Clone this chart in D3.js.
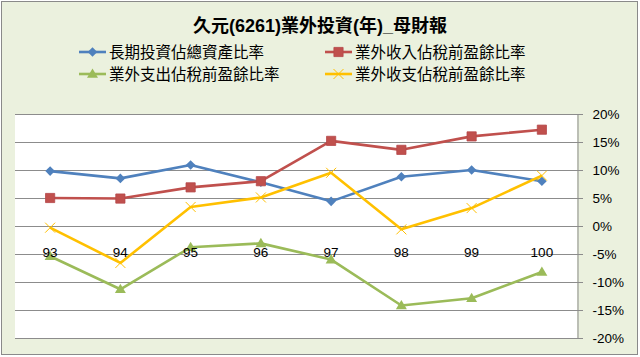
<!DOCTYPE html>
<html><head><meta charset="utf-8">
<script src="https://cdn.jsdelivr.net/npm/d3@7"></script>
<style>body{margin:0;background:#fff}svg{display:block}</style>
</head><body>
<svg id="c" width="640" height="357"></svg>
<script>
const title = "久元(6261)業外投資(年)_母財報";
const categories = ["93","94","95","96","97","98","99","100"];
const seriesNames = ["長期投資佔總資產比率","業外收入佔稅前盈餘比率","業外支出佔稅前盈餘比率","業外收支佔稅前盈餘比率"];
const longInvest = [9.8, 8.5, 10.9, 7.8, 4.4, 8.8, 10.0, 8.0];
const nonOpIncome = [5.0, 4.9, 6.9, 8.0, 15.2, 13.6, 16.0, 17.2];
const nonOpExpense = [-5.4, -11.3, -3.8, -3.1, -6.0, -14.2, -12.9, -8.2];
const nonOpNet = [-0.3, -6.6, 3.4, 5.1, 9.5, -0.6, 3.2, 9.0];
const yTicks = [-20,-15,-10,-5,0,5,10,15,20];

const colors = ["#4F81BD","#C0504D","#9BBB59","#FFC000"];
const markers = ["diamond","square","triangle","x"];
const data = [longInvest, nonOpIncome, nonOpExpense, nonOpNet];

const svg = d3.select("#c");
const latin = "'Liberation Sans', Arial, 'Noto Sans CJK TC', sans-serif";

svg.append("rect").attr("x",1.5).attr("y",1.5).attr("width",636).attr("height",353)
  .attr("fill","#EBF1DE").attr("stroke","#8a8a8a").attr("stroke-width",1);

const L=15, R=577, T=114, B=338;
const x = d3.scaleBand().domain(categories).range([L,R]).padding(0);
const y = d3.scaleLinear().domain([-20,20]).range([B,T]);
const cx = c => x(c) + x.bandwidth()/2;

svg.append("rect").attr("x",L).attr("y",T).attr("width",R-L).attr("height",B-T).attr("fill","#fff");

// gridlines
svg.append("g").selectAll("line").data(yTicks).join("line")
  .attr("x1",L).attr("x2",R+6).attr("y1",d=>Math.round(y(d))+0.5).attr("y2",d=>Math.round(y(d))+0.5)
  .attr("stroke","#8c8c8c").attr("stroke-width",1);
// right axis
const yAxis = d3.axisRight(y).tickValues(yTicks).tickSize(0).tickPadding(15).tickFormat(d=>d+"%");
const ga = svg.append("g").attr("transform",`translate(${R+0.5},0)`).call(yAxis);
ga.select(".domain").attr("stroke","#8c8c8c");
ga.selectAll("text").attr("font-family",latin).attr("font-size",13.5).attr("fill","#000");

// marker drawer
function drawMarker(g, type, color){
  if(type==="diamond") g.append("path").attr("d","M0,-4.8L4.8,0L0,4.8L-4.8,0Z").attr("fill",color);
  else if(type==="square") g.append("path").attr("d","M-4.6,-4.6H4.6V4.6H-4.6Z").attr("fill",color).attr("stroke","#B5474A").attr("stroke-width",0.8);
  else if(type==="triangle") g.append("path").attr("d","M0,-5.5L5.5,3.8L-5.5,3.8Z").attr("fill",color);
  else {
    g.append("path").attr("d","M-5,-5L5,5M-5,5L5,-5").attr("stroke",color).attr("stroke-width",1).attr("fill","none");
  }
}

const line = d3.line().x((d,i)=>cx(categories[i])).y(d=>y(d));
data.forEach((vals,si)=>{
  svg.append("path").datum(vals).attr("d",line).attr("fill","none")
    .attr("stroke",colors[si]).attr("stroke-width",2.6).attr("stroke-linejoin","round");
  vals.forEach((v,i)=>{
    const g = svg.append("g").attr("transform",`translate(${cx(categories[i])},${y(v)})`);
    drawMarker(g, markers[si], colors[si]);
  });
});

// category labels (drawn on top of the lines)
const xAxis = d3.axisBottom(x).tickSize(0).tickPadding(0);
const gx = svg.append("g").attr("transform",`translate(0,${y(0)+30.5})`).call(xAxis);
gx.select(".domain").remove();
gx.selectAll("text").attr("font-family",latin).attr("font-size",13.5).attr("fill","#000").attr("dy","0");

// title
svg.append("text").attr("x",320).attr("y",32).attr("text-anchor","middle")
  .attr("font-family",latin).attr("font-size",18).attr("font-weight","bold").attr("fill","#000").text(title);

// legend
const legPos = [[79,52],[325,52],[79,74],[325,74]];
seriesNames.forEach((n,i)=>{
  const [lx,ly] = legPos[i];
  svg.append("line").attr("x1",lx).attr("x2",lx+27).attr("y1",ly).attr("y2",ly)
    .attr("stroke",colors[i]).attr("stroke-width",2.6);
  const g = svg.append("g").attr("transform",`translate(${lx+13.5},${ly})`);
  drawMarker(g, markers[i], colors[i]);
  svg.append("text").attr("x",lx+30).attr("y",ly).attr("dy","0.36em")
    .attr("font-family","'Noto Sans CJK TC', sans-serif").attr("font-size",15.5).attr("fill","#000").text(n);
});
</script>
</body></html>
